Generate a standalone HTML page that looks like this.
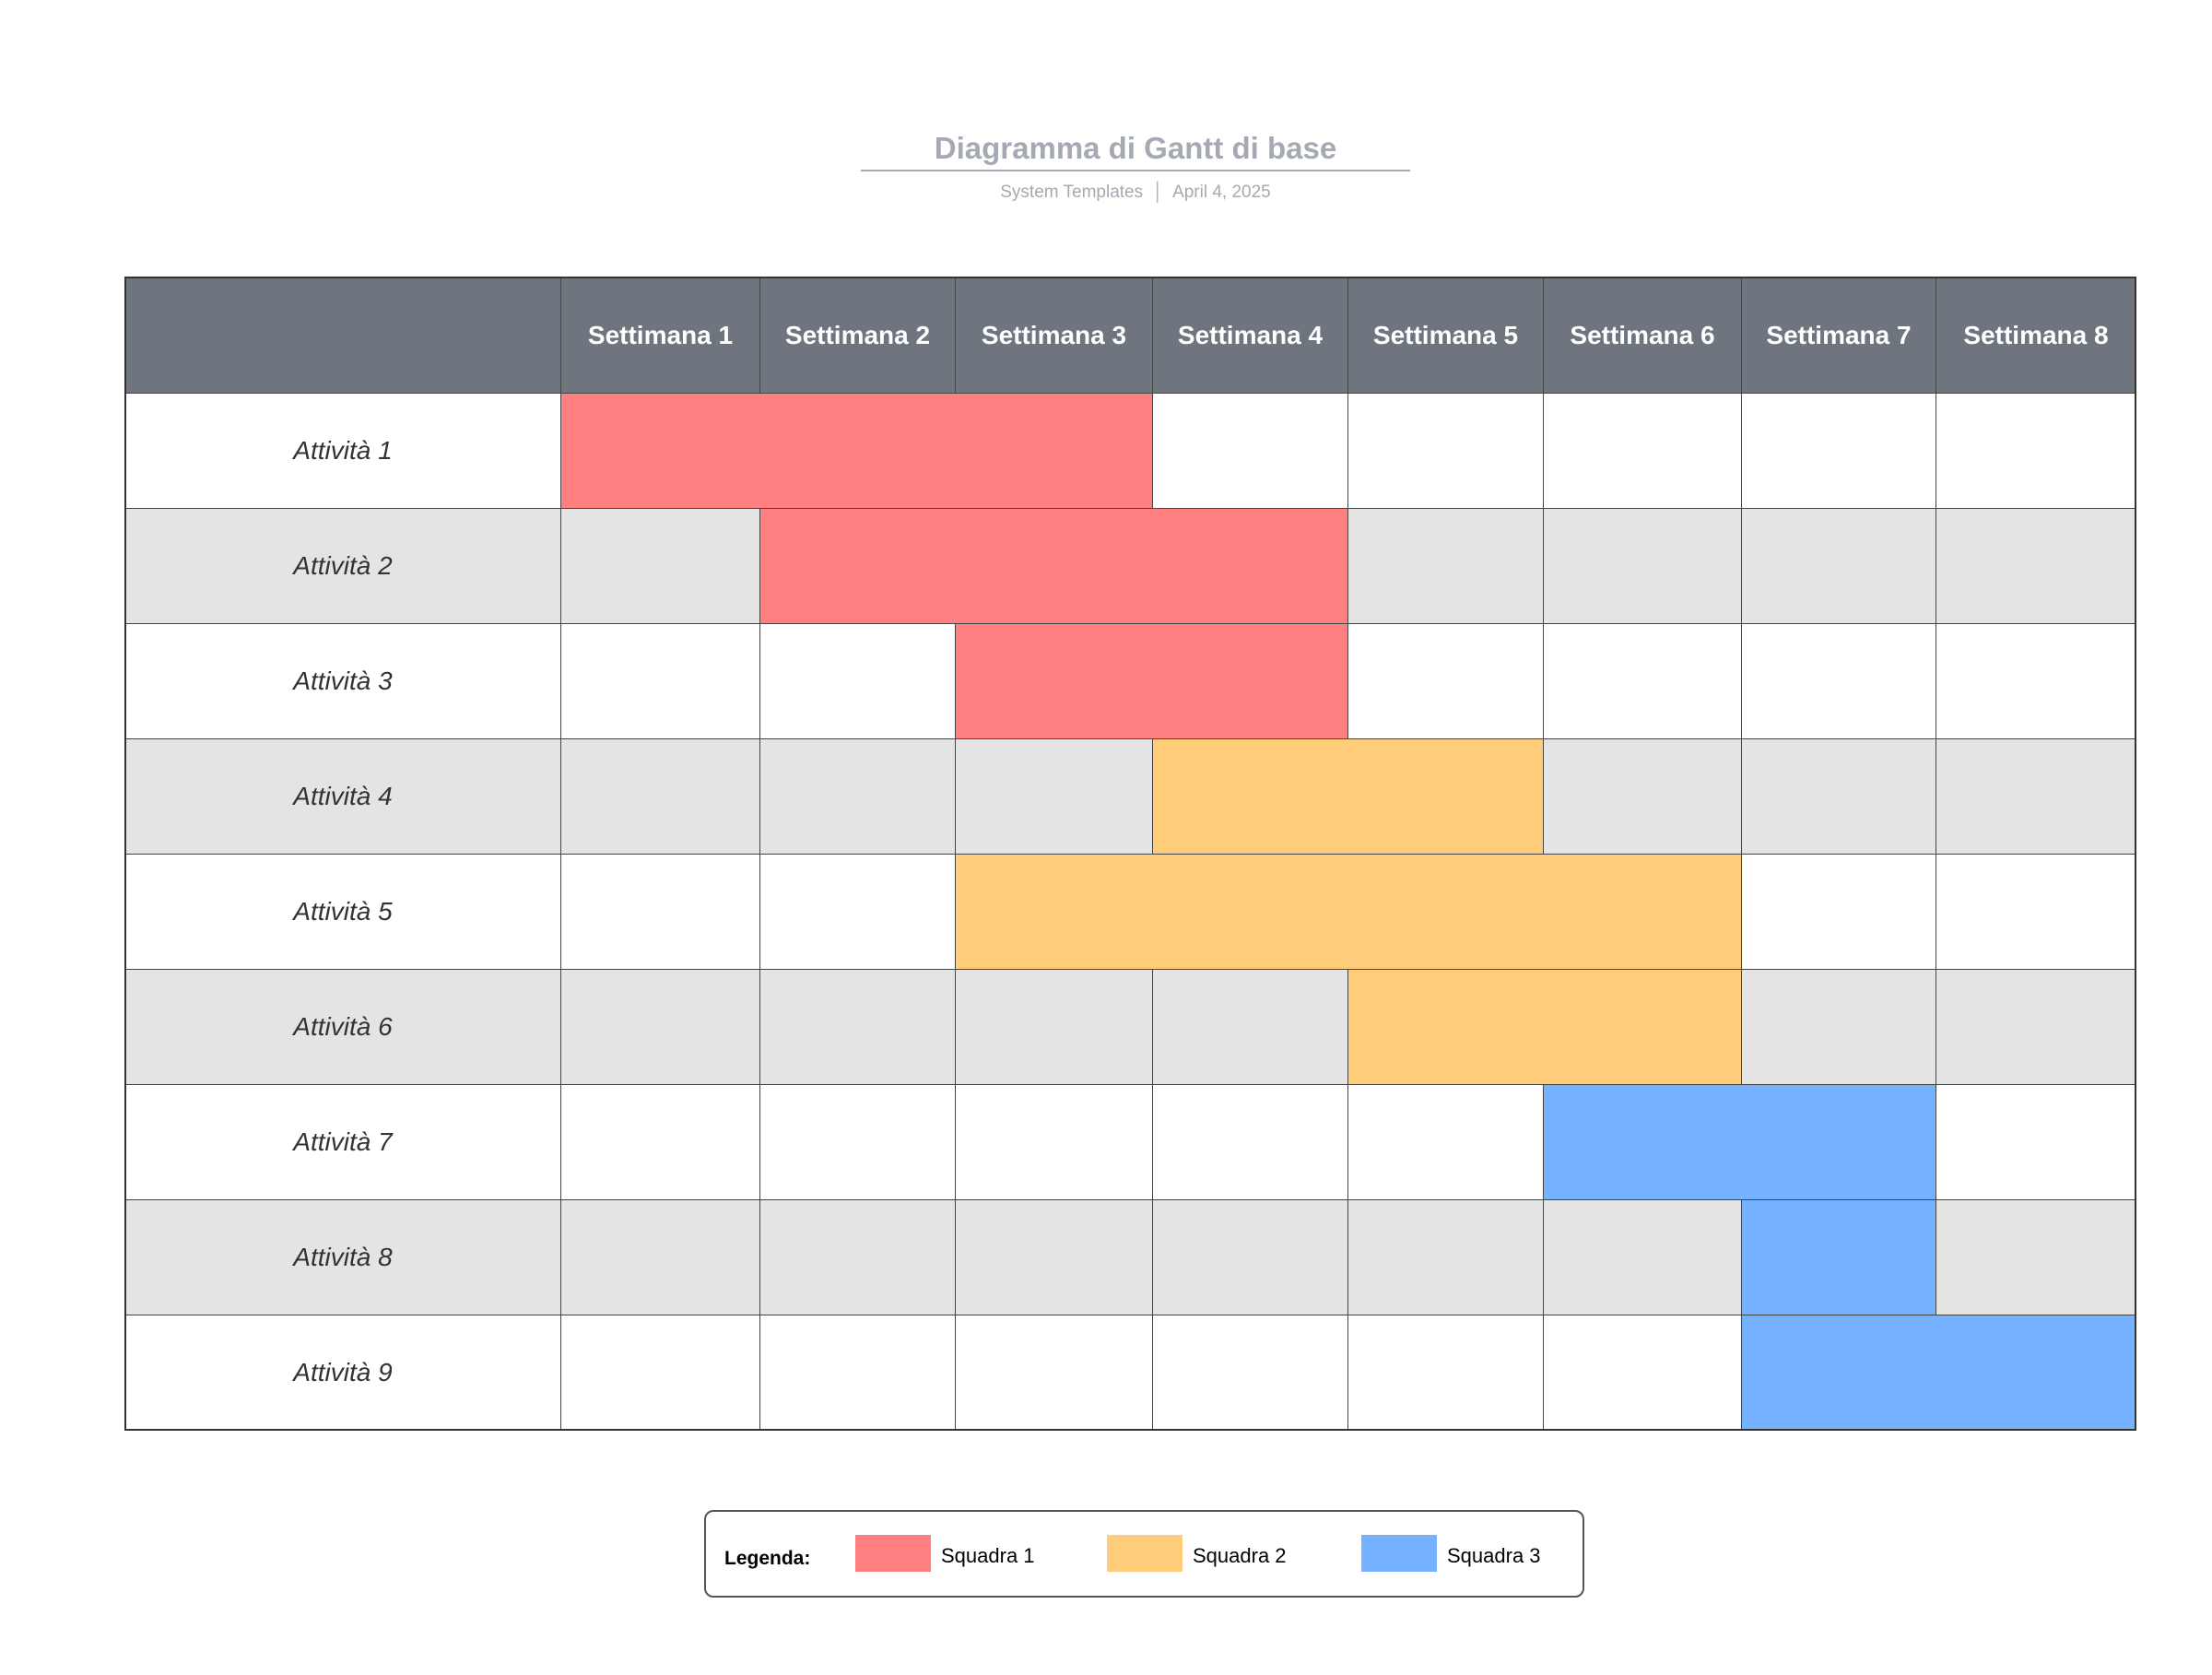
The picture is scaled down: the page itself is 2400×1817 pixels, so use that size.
<!DOCTYPE html>
<html><head><meta charset="utf-8"><style>
html,body{margin:0;padding:0;background:#fff;}
body{width:2400px;height:1817px;position:relative;overflow:hidden;font-family:"Liberation Sans",sans-serif;}
.t{position:absolute;left:0;width:2464px;text-align:center;}
.c{position:absolute;box-sizing:border-box;border:1px solid #444;display:flex;align-items:center;justify-content:center;}
.h{background:#6f757e;color:#fff;font-weight:bold;font-size:28px;border-color:#444;}
.a{font-style:italic;font-size:28px;color:#333;}
.w{background:#fff}.g{background:#e4e4e4}
.r{background:#ff8080;border-color:#444}.y{background:#ffcd79;border-color:#444}.b{background:#75b2ff;border-color:#444}
</style></head><body>
<div class="t" style="top:142px;font-size:33px;font-weight:bold;color:#a4a9b3;">Diagramma di Gantt di base</div>
<div style="position:absolute;left:934px;top:184px;width:596px;height:2px;background:#a4a9b3"></div>
<div class="t" style="top:198px;font-size:19px;color:#a4a9b3;">System Templates &nbsp;│&nbsp; April 4, 2025</div>
<div id="g"></div>
<div style="position:absolute;left:764px;top:1638px;width:955px;height:95px;box-sizing:border-box;border:2px solid #555;border-radius:10px;"></div>
<div style="position:absolute;left:786px;top:1679px;font-size:21px;font-weight:bold;">Legenda:</div>
<div style="position:absolute;left:928px;top:1665px;width:82px;height:40px;background:#ff8080"></div>
<div style="position:absolute;left:1021px;top:1675px;font-size:22px;">Squadra 1</div>
<div style="position:absolute;left:1201px;top:1665px;width:82px;height:40px;background:#ffcd79"></div>
<div style="position:absolute;left:1294px;top:1675px;font-size:22px;">Squadra 2</div>
<div style="position:absolute;left:1477px;top:1665px;width:82px;height:40px;background:#75b2ff"></div>
<div style="position:absolute;left:1570px;top:1675px;font-size:22px;">Squadra 3</div>
<script>
var X=[135,608,824,1036,1250,1462,1674,1889,2100,2317];
var Y0=300,HH=126,RH=125;
var bars=[[1,3,'r'],[2,4,'r'],[3,4,'r'],[4,5,'y'],[3,6,'y'],[5,6,'y'],[6,7,'b'],[7,7,'b'],[7,8,'b']];
var s='';
function cell(x1,x2,y,h,cls,txt){s+='<div class="c '+cls+'" style="left:'+x1+'px;top:'+y+'px;width:'+(x2-x1+1)+'px;height:'+(h+1)+'px">'+(txt||'')+'</div>';}
cell(X[0],X[1],Y0,HH,'h','');
for(var i=1;i<=8;i++)cell(X[i],X[i+1],Y0,HH,'h','Settimana '+i);
for(var r=0;r<9;r++){
 var y=Y0+HH+r*RH,bg=r%2?'g':'w',b=bars[r];
 cell(X[0],X[1],y,RH,'a '+bg,'Attività '+(r+1));
 for(var i=1;i<=8;i++){
  if(i==b[0]){cell(X[i],X[b[1]+1],y,RH,b[2],'');i=b[1];continue;}
  cell(X[i],X[i+1],y,RH,bg,'');
 }
}
s+='<div style="position:absolute;left:'+X[0]+'px;top:'+Y0+'px;width:'+(X[9]-X[0]+1)+'px;height:'+(HH+9*RH+1)+'px;box-sizing:border-box;border:2px solid #333"></div>';
document.getElementById('g').innerHTML=s;
</script>
</body></html>
